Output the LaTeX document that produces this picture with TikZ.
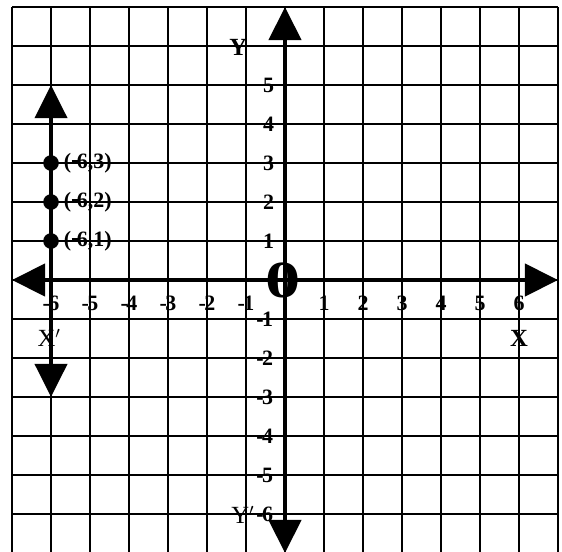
\documentclass[tikz,border=0pt]{standalone}
\usepackage{fontspec}
\setmainfont{Liberation Serif}
\usetikzlibrary{arrows.meta}
\newcommand\myhy{\kern0.03em\rule[0.27em]{0.32em}{0.1em}\kern-0.08em}
\tikzset{
  gridline/.style={line width=1.3pt, black},
  bigaxis/.style={line width=3.6pt, {Triangle[length=0.85cm,width=0.82cm]}-{Triangle[length=0.85cm,width=0.82cm]}},
  tick/.style={inner sep=0pt, font=\fontsize{16}{16}\selectfont\bfseries},
  ptlabel/.style={inner sep=0pt, anchor=west, font=\fontsize{16}{16}\selectfont\bfseries},
  axlabel/.style={inner sep=0pt, font=\fontsize{18}{18}\selectfont},
  dot/.style={circle, fill=black, inner sep=0pt, minimum size=0.4cm},
}
\begin{document}
\begin{tikzpicture}
\useasboundingbox (-7.308,-6.949) rectangle (7.103,7.18);
\begin{scope}
\clip (-7.308,-6.949) rectangle (7.103,7.18);
\draw[gridline] (-7,-7) grid (7,7);
\draw[gridline] (-7,-7.5) -- (-7,7) (7,-7.5) -- (7,7);
% origin zero
\node[inner sep=0pt, xscale=1.35, font=\fontsize{38}{38}\selectfont\bfseries] (zero) at (-0.05,0) {0};
% axes
\coordinate (xl) at (-7,0);
\coordinate (xr) at (7,0);
\coordinate (yt) at (0,7);
\coordinate (yb) at (0,-7);
\draw[bigaxis] (xl) -- (xr);
\draw[bigaxis] (yb) -- (yt);
% vertical line x=-6
\coordinate (vt) at (-6,5);
\coordinate (vb) at (-6,-3);
\draw[bigaxis, line width=3.2pt] (vb) -- (vt);
\end{scope}
% x tick labels
\foreach \i in {1,...,6} {
  \node[tick] (xp\i) at (\i,-0.6) {\i};
  \node[tick] (xn\i) at (-\i,-0.6) {-\kern-1.2pt\i};
}
% y tick labels
\foreach \i in {1,...,5} {
  \node[tick] (yp\i) at (-0.42,\i) {\i};
}
\foreach \i in {1,...,6} {
  \node[tick] (yn\i) at (-0.52,-\i) {-\kern-1.2pt\i};
}
% axis names
\node[axlabel, font=\fontsize{18}{18}\selectfont\bfseries] (Y) at (-1.2,5.97) {Y};
\node[axlabel, font=\fontsize{18}{18}\selectfont\bfseries] (X) at (6.0,-1.49) {X};
\node[axlabel] (Xp) at (-6.05,-1.49) {X$'$};
\node[axlabel, anchor=east] (Yp) at (-0.78,-6.02) {Y$'$};
% points
\node[dot] (p1) at (-6,1) {};
\node[dot] (p2) at (-6,2) {};
\node[dot] (p3) at (-6,3) {};
\node[ptlabel] (l1) at (-5.68,1) {(\myhy 6,1)};
\node[ptlabel] (l2) at (-5.68,2) {(\myhy 6,2)};
\node[ptlabel] (l3) at (-5.68,3) {(\myhy 6,3)};
\end{tikzpicture}
\end{document}
